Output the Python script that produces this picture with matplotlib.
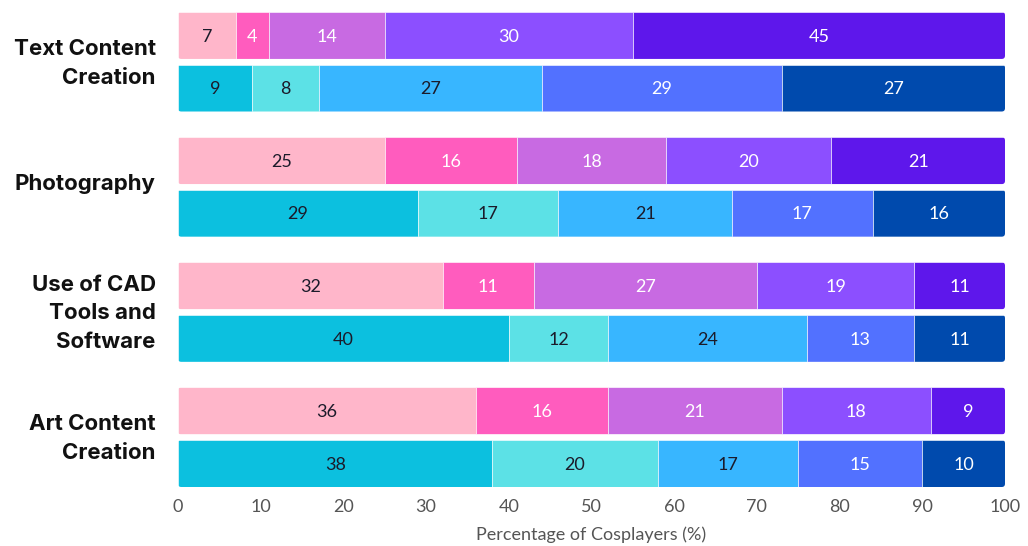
import numpy as np
import matplotlib.pyplot as plt
from matplotlib.patches import FancyBboxPatch

categories = ["Text Content\nCreation", "Photography",
              "Use of CAD\nTools and\nSoftware", "Art Content\nCreation"]

# upper bar of each group (pink/purple) and lower bar (cyan/blue)
top_vals = [
    [7, 4, 14, 30, 45],
    [25, 16, 18, 20, 21],
    [32, 11, 27, 19, 11],
    [36, 16, 21, 18, 9],
]
bottom_vals = [
    [9, 8, 27, 29, 27],
    [29, 17, 21, 17, 16],
    [40, 12, 24, 13, 11],
    [38, 20, 17, 15, 10],
]
ticks = [0, 10, 20, 30, 40, 50, 60, 70, 80, 90, 100]

top_colors = ["#FFB6CA", "#FF5CBE", "#C86AE2", "#8C4FFF", "#5E17EB"]
bottom_colors = ["#0CC0DF", "#5CE1E6", "#38B6FF", "#5271FF", "#004AAD"]
top_text = ["#1b1b2a", "white", "white", "white", "white"]
bottom_text = ["#1b1b2a", "#1b1b2a", "#1b1b2a", "white", "white"]

plt.rcParams['font.family'] = ['Lato', 'DejaVu Sans']

fig = plt.figure(figsize=(10.28, 5.46), dpi=100)
ax = fig.add_axes([178 / 1028, 59 / 546, 827 / 1028, 475 / 546])

h = 0.375
off = 0.21


def draw_bar(y, vals, colors, tcolors):
    left = 0
    bg = FancyBboxPatch((0, y - h / 2), sum(vals), h,
                        boxstyle="round,pad=0,rounding_size=0.4",
                        mutation_aspect=0.066, facecolor="none",
                        edgecolor="none")
    ax.add_patch(bg)
    bars = ax.barh([y] * len(vals), vals, left=np.cumsum([0] + vals[:-1]),
                   height=h, color=colors, edgecolor="white", linewidth=0.4)
    for b in bars:
        b.set_clip_path(bg)
    for v, tc in zip(vals, tcolors):
        ax.text(left + v / 2, y + 0.01, str(v), ha="center", va="center",
                color=tc, fontsize=13)
        left += v


for i in range(len(categories)):
    draw_bar(i - off, top_vals[i], top_colors, top_text)
    draw_bar(i + off, bottom_vals[i], bottom_colors, bottom_text)

ax.set_xlim(0, 100)
ax.set_ylim(3 + off + h / 2, -off - h / 2)
ax.set_xticks(ticks)
ax.set_xticklabels([str(t) for t in ticks], fontsize=13, color="#555555")
ax.set_yticks(np.arange(len(categories)) - 0.04)
ax.set_yticklabels(categories, fontsize=16, fontweight="bold",
                   color="#111111", linespacing=1.55, family="Inter")
ax.tick_params(axis="both", length=0)
ax.tick_params(axis="y", pad=16)
ax.tick_params(axis="x", pad=9)
ax.set_xlabel("Percentage of Cosplayers (%)", fontsize=13, color="#555555",
              labelpad=8)
for s in ax.spines.values():
    s.set_visible(False)

fig.savefig("out.png", dpi=100)
